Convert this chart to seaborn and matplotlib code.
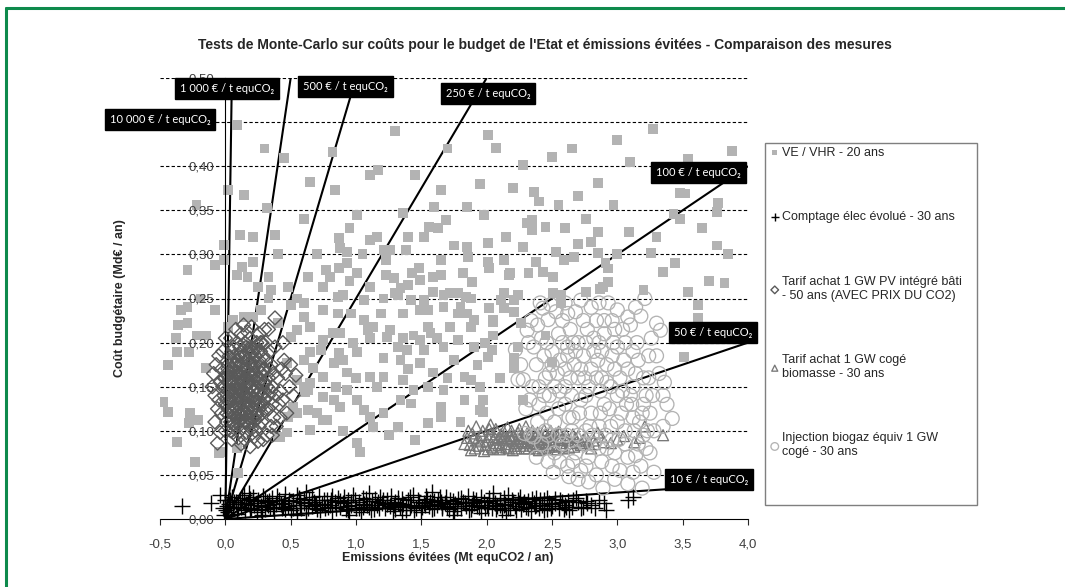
import seaborn as sns
import matplotlib.pyplot as plt
import pandas as pd
from matplotlib.patches import Rectangle
from matplotlib.lines import Line2D

# ---- data (x = Mt equCO2 / an, y = Md€ / an) ----
ve_points = [
    (0.09, 0.447), (0.02, 0.373), (0.14, 0.367), (-0.01, 0.311), (-0.01, 0.294), (-0.22, 0.356),
    (-0.29, 0.282), (-0.08, 0.288), (0.115, 0.322), (0.21, 0.320), (0.21, 0.291), (0.13, 0.286),
    (0.09, 0.277), (0.17, 0.274), (0.32, 0.353), (0.45, 0.409), (0.38, 0.322), (0.33, 0.274),
    (0.25, 0.263), (0.48, 0.263), (0.63, 0.274), (0.65, 0.382), (0.82, 0.416), (0.84, 0.373),
    (0.87, 0.319), (0.88, 0.307), (0.93, 0.303), (0.93, 0.290), (0.87, 0.285), (0.77, 0.282),
    (0.80, 0.274), (1.01, 0.345), (1.01, 0.279), (1.11, 0.390), (1.17, 0.396), (1.11, 0.316),
    (1.16, 0.320), (1.21, 0.305), (1.23, 0.294), (1.26, 0.305), (1.23, 0.277), (1.29, 0.273),
    (1.34, 0.262), (1.36, 0.347), (1.38, 0.305), (1.43, 0.279), (1.48, 0.285), (1.49, 0.271),
    (1.30, 0.256), (1.52, 0.320), (1.56, 0.331), (1.63, 0.330), (1.65, 0.373), (1.60, 0.354),
    (1.69, 0.339), (1.65, 0.294), (1.65, 0.277), (1.59, 0.274), (1.59, 0.257), (1.72, 0.256),
    (1.82, 0.279), (1.85, 0.354), (1.85, 0.308), (1.86, 0.297), (1.89, 0.269), (1.84, 0.252),
    (1.98, 0.345), (2.01, 0.313), (2.01, 0.435), (2.07, 0.421), (2.01, 0.291), (2.02, 0.285),
    (2.13, 0.294), (2.17, 0.277), (2.13, 0.256), (2.28, 0.308), (2.28, 0.401), (2.36, 0.371),
    (2.35, 0.339), (2.35, 0.328), (2.45, 0.331), (2.38, 0.291), (2.32, 0.279), (2.43, 0.280),
    (2.51, 0.274), (2.50, 0.410), (2.55, 0.356), (2.53, 0.303), (2.59, 0.294), (2.51, 0.256),
    (3.27, 0.442), (3.54, 0.408), (3.88, 0.417), (2.85, 0.381), (2.70, 0.366), (2.97, 0.356),
    (3.48, 0.370), (3.52, 0.369), (3.77, 0.358), (3.76, 0.348), (3.43, 0.346), (3.48, 0.340),
    (2.31, 0.336), (2.76, 0.340), (2.85, 0.325), (3.09, 0.325), (2.70, 0.312), (2.80, 0.314),
    (2.67, 0.297), (2.85, 0.302), (2.91, 0.290), (2.93, 0.284), (3.26, 0.302), (3.44, 0.290),
    (3.76, 0.310), (2.18, 0.279), (2.93, 0.269), (2.87, 0.261), (3.54, 0.257), (3.82, 0.268),
    (2.76, 0.257), (2.24, 0.254), (2.57, 0.254), (2.02, 0.239), (2.13, 0.239), (2.21, 0.235),
    (2.05, 0.223), (2.05, 0.208), (1.99, 0.200), (2.04, 0.192), (2.21, 0.183), (2.21, 0.171),
    (2.57, 0.245), (2.45, 0.208), (2.50, 0.178), (2.89, 0.263), (3.62, 0.243), (3.62, 0.228),
    (3.51, 0.184), (1.97, 0.135), (1.97, 0.121), (2.28, 0.135),
    (-0.34, 0.237), (-0.29, 0.240), (-0.19, 0.250), (-0.08, 0.237), (-0.36, 0.220), (-0.29, 0.222),
    (-0.22, 0.208), (-0.15, 0.208), (-0.38, 0.205), (-0.37, 0.189), (-0.28, 0.189), (-0.44, 0.175),
    (-0.15, 0.171), (-0.48, 0.133), (-0.44, 0.121), (-0.27, 0.120), (-0.28, 0.109), (-0.21, 0.112),
    (-0.37, 0.087), (-0.23, 0.065), (-0.05, 0.075), (0.10, 0.052), (0.09, 0.080), (0.27, 0.237),
    (0.33, 0.250), (0.50, 0.243), (0.55, 0.250), (0.60, 0.245), (0.60, 0.229), (0.65, 0.218),
    (0.55, 0.214), (0.75, 0.237), (0.86, 0.252), (0.90, 0.254), (0.86, 0.233), (0.96, 0.233),
    (0.75, 0.203), (0.82, 0.211), (0.73, 0.192), (0.65, 0.189), (0.60, 0.180), (0.67, 0.171),
    (0.75, 0.161), (0.60, 0.150), (0.63, 0.146), (0.55, 0.158), (0.87, 0.188), (0.90, 0.180),
    (1.01, 0.189), (0.98, 0.200), (0.88, 0.211), (0.93, 0.166), (0.83, 0.177), (1.06, 0.226),
    (1.09, 0.214), (1.13, 0.218), (1.19, 0.233), (1.21, 0.250), (1.26, 0.214), (1.24, 0.206),
    (1.11, 0.205), (1.21, 0.183), (1.11, 0.161), (1.16, 0.150), (1.21, 0.161), (0.93, 0.146),
    (0.75, 0.138), (0.83, 0.135), (0.88, 0.127), (1.01, 0.135), (1.06, 0.124), (1.11, 0.116),
    (1.13, 0.104), (1.01, 0.086), (1.03, 0.076), (0.63, 0.124), (0.70, 0.120), (0.75, 0.112),
    (0.65, 0.101), (0.47, 0.098), (0.52, 0.127), (0.42, 0.093), (1.32, 0.104), (1.21, 0.120),
    (1.34, 0.135), (1.42, 0.131), (1.36, 0.158), (1.34, 0.180), (1.32, 0.195), (1.36, 0.205),
    (1.44, 0.208), (1.49, 0.203), (1.52, 0.192), (1.39, 0.192), (1.49, 0.177), (1.55, 0.218),
    (1.57, 0.211), (1.62, 0.205), (1.67, 0.195), (1.59, 0.166), (1.55, 0.150), (1.44, 0.146),
    (1.67, 0.146), (1.65, 0.127), (1.65, 0.116), (1.55, 0.109), (1.49, 0.237), (1.55, 0.237),
    (1.67, 0.240), (1.78, 0.233), (1.72, 0.218), (1.75, 0.180), (1.78, 0.203), (1.88, 0.218),
    (1.90, 0.195), (2.01, 0.184), (1.93, 0.175), (1.83, 0.161), (1.88, 0.158), (1.95, 0.124),
    (1.83, 0.135), (1.85, 0.233), (1.90, 0.226), (2.05, 0.226), (2.11, 0.248), (2.21, 0.248),
    (2.24, 0.195), (2.26, 0.222), (1.67, 0.254), (1.78, 0.256), (1.88, 0.250), (1.32, 0.254),
    (1.42, 0.248), (1.36, 0.233), (1.52, 0.248), (1.06, 0.248), (1.11, 0.263), (0.75, 0.263),
    (0.02, 0.218), (0.06, 0.226), (0.14, 0.229), (0.21, 0.229), (0.40, 0.222), (0.50, 0.206),
    (0.47, 0.177), (0.48, 0.116), (0.40, 0.093), (0.17, 0.195), (-0.04, 0.076), (0.55, 0.120),
    (0.61, 0.144), (0.65, 0.154), (0.78, 0.112),
    (0.70, 0.300), (0.95, 0.330), (1.05, 0.300), (1.40, 0.320), (1.75, 0.310), (2.15, 0.320),
    (2.40, 0.360), (2.60, 0.330), (3.00, 0.300), (3.20, 0.260), (3.35, 0.280), (3.70, 0.270),
    (3.40, 0.390), (3.10, 0.405), (2.20, 0.375), (1.95, 0.380), (1.45, 0.390), (0.60, 0.340),
    (0.40, 0.300), (0.30, 0.420), (1.30, 0.440), (1.70, 0.420), (2.65, 0.420), (3.00, 0.430),
    (3.65, 0.330), (3.85, 0.300), (3.30, 0.320), (1.00, 0.160), (1.40, 0.170), (1.70, 0.160),
    (1.80, 0.110), (1.45, 0.090), (1.25, 0.095), (0.90, 0.100), (0.85, 0.150), (1.95, 0.150),
    (2.10, 0.160), (0.35, 0.260), (0.95, 0.270), (1.40, 0.265), (1.80, 0.240),
]

comptage_points = [
    (-0.33, 0.015), (-0.11, 0.018), (-0.04, 0.027), (-0.02, 0.012), (0.00, 0.022), (0.02, 0.008),
    (0.03, 0.017), (0.05, 0.025), (0.06, 0.012), (0.08, 0.019), (0.09, 0.006), (0.11, 0.022),
    (0.12, 0.014), (0.14, 0.027), (0.15, 0.010), (0.17, 0.018), (0.19, 0.023), (0.20, 0.013),
    (0.22, 0.016), (0.24, 0.008), (0.25, 0.021), (0.27, 0.015), (0.29, 0.026), (0.30, 0.011),
    (0.32, 0.019), (0.34, 0.014), (0.36, 0.024), (0.37, 0.009), (0.39, 0.017), (0.41, 0.021),
    (0.43, 0.012), (0.45, 0.018), (0.46, 0.028), (0.48, 0.015), (0.50, 0.010), (0.52, 0.020),
    (0.54, 0.016), (0.56, 0.024), (0.58, 0.012), (0.60, 0.018), (0.62, 0.007), (0.64, 0.022),
    (0.66, 0.015), (0.68, 0.019), (0.70, 0.011), (0.72, 0.026), (0.74, 0.017), (0.76, 0.013),
    (0.78, 0.021), (0.80, 0.016), (0.82, 0.009), (0.84, 0.019), (0.86, 0.024), (0.88, 0.014),
    (0.90, 0.018), (0.92, 0.011), (0.94, 0.022), (0.96, 0.016), (0.98, 0.027), (1.00, 0.013),
    (1.02, 0.019), (1.04, 0.008), (1.06, 0.017), (1.08, 0.023), (1.10, 0.014), (1.12, 0.020),
    (1.14, 0.011), (1.16, 0.016), (1.18, 0.025), (1.20, 0.018), (1.22, 0.012), (1.24, 0.021),
    (1.26, 0.015), (1.28, 0.009), (1.30, 0.019), (1.32, 0.024), (1.34, 0.014), (1.36, 0.017),
    (1.38, 0.010), (1.40, 0.022), (1.42, 0.016), (1.44, 0.027), (1.46, 0.013), (1.48, 0.019),
    (1.50, 0.008), (1.52, 0.018), (1.54, 0.023), (1.56, 0.015), (1.58, 0.011), (1.60, 0.020),
    (1.62, 0.016), (1.64, 0.025), (1.66, 0.012), (1.68, 0.018), (1.70, 0.014), (1.72, 0.021),
    (1.74, 0.009), (1.76, 0.017), (1.78, 0.023), (1.80, 0.013), (1.82, 0.019), (1.84, 0.015),
    (1.86, 0.026), (1.88, 0.011), (1.90, 0.018), (1.92, 0.021), (1.94, 0.014), (1.96, 0.007),
    (1.98, 0.019), (2.00, 0.016), (2.02, 0.024), (2.04, 0.012), (2.06, 0.018), (2.08, 0.015),
    (2.10, 0.021), (2.12, 0.010), (2.14, 0.017), (2.16, 0.027), (2.18, 0.013), (2.20, 0.019),
    (2.22, 0.015), (2.24, 0.022), (2.26, 0.011), (2.28, 0.017), (2.30, 0.014), (2.32, 0.020),
    (2.34, 0.009), (2.36, 0.018), (2.38, 0.024), (2.40, 0.013), (2.42, 0.016), (2.44, 0.021),
    (2.46, 0.011), (2.48, 0.018), (2.50, 0.015), (2.52, 0.023), (2.55, 0.012), (2.58, 0.019),
    (2.60, 0.016), (2.63, 0.010), (2.66, 0.021), (2.70, 0.019), (2.74, 0.014), (2.80, 0.016),
    (2.86, 0.021), (2.90, 0.018), (2.91, 0.010), (3.08, 0.022), (3.12, 0.025),
    (0.01, 0.015), (0.10, 0.017), (0.21, 0.020), (0.33, 0.016), (0.44, 0.014), (0.57, 0.019),
    (0.69, 0.016), (0.81, 0.021), (0.93, 0.015), (1.05, 0.014), (1.17, 0.019), (1.29, 0.016),
    (1.41, 0.014), (1.53, 0.016), (1.65, 0.019), (1.77, 0.015), (1.89, 0.016), (2.01, 0.013),
    (2.13, 0.016), (2.25, 0.018), (2.37, 0.015), (2.49, 0.017), (2.61, 0.014), (2.77, 0.018),
    (0.005, 0.010), (0.035, 0.021), (0.065, 0.019), (0.095, 0.013), (0.125, 0.024), (0.155, 0.017),
    (0.185, 0.011), (0.215, 0.025), (0.245, 0.018), (0.275, 0.010), (0.305, 0.022), (0.335, 0.020),
    (0.365, 0.013), (0.395, 0.026), (0.425, 0.017), (0.455, 0.011), (0.485, 0.022), (0.515, 0.013),
    (0.545, 0.027), (0.575, 0.016), (0.605, 0.023), (0.635, 0.012), (0.665, 0.025), (0.695, 0.017),
    (0.725, 0.010), (0.755, 0.021), (0.785, 0.014), (0.815, 0.026), (0.845, 0.012), (0.875, 0.020),
    (0.905, 0.025), (0.935, 0.010), (0.965, 0.019), (0.995, 0.022), (1.025, 0.012), (1.055, 0.024),
    (1.085, 0.016), (1.115, 0.010), (1.145, 0.023), (1.175, 0.013), (1.205, 0.022), (1.235, 0.017),
    (1.265, 0.026), (1.295, 0.011), (1.325, 0.018), (1.355, 0.023), (1.385, 0.015), (1.415, 0.025),
    (1.445, 0.010), (1.475, 0.021), (1.505, 0.014), (1.535, 0.026), (1.565, 0.019), (1.595, 0.012),
    (1.625, 0.022), (1.655, 0.015), (1.685, 0.025), (1.715, 0.011), (1.745, 0.020), (1.775, 0.013),
    (1.805, 0.024), (1.835, 0.018), (1.865, 0.010), (1.895, 0.023), (1.925, 0.015), (1.955, 0.025),
    (1.985, 0.012), (2.015, 0.020), (2.045, 0.022), (2.075, 0.011), (2.105, 0.016), (2.135, 0.024),
    (2.165, 0.012), (2.195, 0.021), (2.225, 0.010), (2.255, 0.025), (2.285, 0.019), (2.315, 0.012),
    (2.345, 0.023), (2.375, 0.016), (2.405, 0.021), (2.435, 0.010), (2.465, 0.024), (2.495, 0.012),
    (2.525, 0.018), (2.565, 0.022), (2.595, 0.011), (2.625, 0.020), (2.655, 0.014), (2.685, 0.024),
    (2.72, 0.012), (2.76, 0.020), (2.83, 0.013), (-0.01, 0.005), (0.04, 0.004), (0.28, 0.005),
    (0.55, 0.004), (0.95, 0.005), (1.35, 0.004), (1.75, 0.005), (2.15, 0.004), (0.18, 0.030),
    (0.62, 0.031), (1.10, 0.030), (1.58, 0.031), (2.05, 0.030),
]

pv_points = [
    (0.15, 0.150), (0.10, 0.140), (0.20, 0.160), (0.05, 0.130), (0.25, 0.170), (0.12, 0.120),
    (0.18, 0.180), (0.08, 0.165), (0.22, 0.135), (0.00, 0.150), (0.30, 0.155), (0.14, 0.105),
    (0.16, 0.195), (0.04, 0.110), (0.27, 0.190), (-0.03, 0.170), (0.33, 0.140), (0.10, 0.185),
    (0.20, 0.115), (0.07, 0.150), (0.24, 0.150), (0.13, 0.165), (0.17, 0.135), (0.02, 0.175),
    (0.35, 0.175), (0.11, 0.100), (0.28, 0.120), (0.06, 0.195), (0.19, 0.205), (-0.05, 0.135),
    (0.40, 0.160), (0.09, 0.125), (0.23, 0.185), (0.15, 0.090), (0.31, 0.200), (0.01, 0.120),
    (0.26, 0.105), (0.12, 0.210), (0.36, 0.130), (-0.02, 0.190), (0.21, 0.145), (0.14, 0.140),
    (0.08, 0.105), (0.29, 0.170), (0.03, 0.160), (0.18, 0.155), (0.11, 0.175), (0.22, 0.125),
    (0.06, 0.140), (0.16, 0.120), (0.34, 0.190), (0.38, 0.228), (0.33, 0.215), (-0.10, 0.150),
    (-0.06, 0.086), (0.19, 0.082), (0.54, 0.163), (0.45, 0.180), (0.42, 0.145), (0.47, 0.120),
    (0.39, 0.105), (0.32, 0.095), (0.25, 0.088), (0.05, 0.090), (-0.08, 0.110), (-0.07, 0.175),
    (0.00, 0.205), (0.08, 0.215), (0.14, 0.220), (0.26, 0.210), (0.44, 0.200), (0.49, 0.150),
    (0.37, 0.115), (0.30, 0.135), (0.27, 0.145), (0.20, 0.175), (0.17, 0.170), (0.13, 0.155),
    (0.09, 0.160), (0.04, 0.145), (-0.01, 0.140), (0.02, 0.125), (0.07, 0.118), (0.10, 0.110),
    (0.18, 0.108), (0.23, 0.100), (0.28, 0.110), (0.33, 0.160), (0.36, 0.150), (0.31, 0.180),
    (0.24, 0.200), (0.21, 0.190), (0.15, 0.185), (0.12, 0.190), (0.05, 0.180), (0.02, 0.155),
    (-0.04, 0.155), (0.11, 0.145), (0.16, 0.160), (0.19, 0.140), (0.25, 0.130), (0.13, 0.130),
    (0.08, 0.135), (0.22, 0.165), (0.29, 0.155), (0.17, 0.125), (0.06, 0.170), (0.26, 0.160),
    (0.14, 0.175), (0.10, 0.155), (0.20, 0.128), (0.31, 0.125), (0.04, 0.100), (0.16, 0.098),
    (0.35, 0.105), (0.41, 0.130), (0.43, 0.170), (0.38, 0.195), (0.28, 0.200), (0.09, 0.200),
    (-0.03, 0.120), (0.00, 0.100), (0.12, 0.085), (0.22, 0.093),
    (0.03, 0.138), (0.07, 0.128), (0.11, 0.133), (0.15, 0.128), (0.19, 0.150), (0.23, 0.158),
    (0.05, 0.155), (0.09, 0.148), (0.13, 0.148), (0.17, 0.145), (0.21, 0.170), (0.25, 0.142),
    (0.01, 0.165), (0.07, 0.175), (0.11, 0.165), (0.15, 0.170), (0.19, 0.188), (0.27, 0.175),
    (0.04, 0.122), (0.08, 0.115), (0.12, 0.112), (0.16, 0.110), (0.20, 0.102), (0.24, 0.118),
    (0.00, 0.130), (0.02, 0.145), (0.04, 0.135), (0.06, 0.125), (0.08, 0.145), (0.10, 0.130),
    (0.12, 0.140), (0.14, 0.120), (0.16, 0.140), (0.18, 0.130), (0.20, 0.150), (0.22, 0.145),
    (0.24, 0.135), (0.26, 0.125), (0.28, 0.140), (0.30, 0.145), (0.32, 0.150), (0.00, 0.160),
    (0.02, 0.170), (0.04, 0.165), (0.06, 0.160), (0.08, 0.175), (0.10, 0.165), (0.12, 0.160),
    (0.14, 0.160), (0.16, 0.180), (0.18, 0.165), (0.20, 0.165), (0.22, 0.175), (0.24, 0.160),
    (0.26, 0.180), (0.28, 0.165), (0.30, 0.170), (-0.02, 0.150), (-0.01, 0.160), (0.01, 0.110),
    (0.03, 0.118), (0.05, 0.120), (0.07, 0.108), (0.09, 0.115), (0.11, 0.120), (0.13, 0.115),
    (0.15, 0.112), (0.17, 0.115), (0.19, 0.120), (0.21, 0.110), (0.23, 0.112), (0.25, 0.115),
    (0.27, 0.130), (0.03, 0.185), (0.05, 0.190), (0.07, 0.185), (0.09, 0.180), (0.11, 0.195),
    (0.13, 0.185), (0.15, 0.200), (0.17, 0.190), (0.19, 0.195), (0.21, 0.180), (0.23, 0.195),
    (0.25, 0.190), (0.27, 0.200), (0.29, 0.185), (0.01, 0.135), (0.05, 0.145), (0.09, 0.138),
    (0.13, 0.145), (0.17, 0.152), (0.21, 0.138), (0.25, 0.155), (0.29, 0.130), (0.33, 0.125),
    (0.35, 0.145), (0.37, 0.165), (0.39, 0.140), (0.34, 0.170), (-0.06, 0.125), (-0.08, 0.140),
    (-0.09, 0.165), (-0.05, 0.185), (0.46, 0.165), (0.50, 0.175), (0.52, 0.140), (0.44, 0.135),
    (0.42, 0.115), (0.36, 0.095), (0.29, 0.090), (0.10, 0.092), (0.06, 0.098), (-0.04, 0.098),
    (0.30, 0.215), (0.20, 0.218), (0.04, 0.205), (0.17, 0.212),
]

biomasse_points = [
    (1.83, 0.085), (1.86, 0.100), (1.88, 0.078), (1.90, 0.092), (1.92, 0.105), (1.94, 0.083),
    (1.96, 0.095), (1.98, 0.077), (2.00, 0.088), (2.02, 0.102), (2.03, 0.107), (2.04, 0.082),
    (2.06, 0.093), (2.08, 0.099), (2.10, 0.079), (2.12, 0.090), (2.14, 0.085), (2.16, 0.104),
    (2.18, 0.094), (2.20, 0.078), (2.22, 0.088), (2.24, 0.098), (2.26, 0.083), (2.28, 0.092),
    (2.30, 0.105), (2.32, 0.080), (2.34, 0.090), (2.36, 0.096), (2.38, 0.085), (2.40, 0.078),
    (2.42, 0.093), (2.44, 0.101), (2.46, 0.087), (2.48, 0.082), (2.50, 0.095), (2.52, 0.089),
    (2.54, 0.079), (2.56, 0.098), (2.58, 0.086), (2.60, 0.092), (2.63, 0.081), (2.66, 0.096),
    (2.69, 0.088), (2.72, 0.084), (2.76, 0.093), (2.80, 0.080), (2.85, 0.098), (2.90, 0.087),
    (3.00, 0.090), (3.13, 0.087), (3.21, 0.105), (3.35, 0.095),
    (1.95, 0.088), (2.01, 0.093), (2.07, 0.086), (2.11, 0.096), (2.15, 0.081), (2.19, 0.091),
    (2.23, 0.086), (2.27, 0.095), (2.31, 0.088), (2.35, 0.083), (2.39, 0.091), (2.43, 0.087),
    (2.47, 0.093), (2.51, 0.084), (2.55, 0.090), (2.05, 0.090), (2.13, 0.094), (2.21, 0.083),
    (2.29, 0.086), (2.37, 0.094), (2.45, 0.080), (2.53, 0.097), (2.09, 0.084), (2.17, 0.089),
    (2.25, 0.091), (2.33, 0.097), (2.41, 0.085), (2.49, 0.090), (2.57, 0.083), (2.62, 0.089),
    (2.68, 0.092), (2.74, 0.090), (2.82, 0.089),
    (1.85, 0.092), (1.87, 0.084), (1.89, 0.097), (1.91, 0.080), (1.93, 0.090), (1.97, 0.100),
    (1.99, 0.084), (2.01, 0.079), (2.03, 0.096), (2.05, 0.080), (2.07, 0.102), (2.09, 0.092),
    (2.11, 0.082), (2.13, 0.100), (2.15, 0.092), (2.17, 0.080), (2.19, 0.100), (2.21, 0.094),
    (2.23, 0.080), (2.25, 0.102), (2.27, 0.088), (2.29, 0.080), (2.31, 0.097), (2.33, 0.086),
    (2.35, 0.100), (2.37, 0.080), (2.39, 0.098), (2.41, 0.090), (2.43, 0.080), (2.45, 0.096),
    (2.47, 0.084), (2.49, 0.100), (2.51, 0.090), (2.53, 0.082), (2.55, 0.099), (2.57, 0.090),
    (2.59, 0.080), (2.61, 0.095), (2.64, 0.086), (2.67, 0.082), (2.70, 0.094), (2.73, 0.086),
    (2.78, 0.088), (2.83, 0.085), (2.88, 0.093), (2.95, 0.086), (3.05, 0.094), (3.17, 0.092),
]

biogaz_points = [
    (3.21, 0.250), (3.30, 0.222), (3.33, 0.214), (3.42, 0.114), (3.35, 0.140), (3.28, 0.053),
    (3.19, 0.035), (3.12, 0.053), (2.89, 0.035), (2.78, 0.042), (2.63, 0.048), (2.51, 0.053),
    (2.34, 0.095), (2.24, 0.158), (2.22, 0.192), (2.32, 0.200), (2.31, 0.214), (2.47, 0.226),
    (2.49, 0.243), (2.72, 0.248), (3.00, 0.237), (3.08, 0.229), (2.62, 0.233), (2.43, 0.239),
    (2.28, 0.158), (2.36, 0.093), (2.29, 0.097),
    (2.40, 0.130), (2.45, 0.160), (2.50, 0.190), (2.55, 0.210), (2.60, 0.170), (2.65, 0.140),
    (2.70, 0.200), (2.75, 0.160), (2.80, 0.120), (2.85, 0.180), (2.90, 0.210), (2.95, 0.150),
    (3.00, 0.110), (3.05, 0.180), (3.10, 0.140), (3.15, 0.200), (3.20, 0.160), (3.25, 0.120),
    (2.38, 0.175), (2.42, 0.205), (2.48, 0.140), (2.52, 0.110), (2.58, 0.225), (2.62, 0.195),
    (2.67, 0.175), (2.72, 0.135), (2.77, 0.215), (2.82, 0.190), (2.87, 0.145), (2.92, 0.175),
    (2.97, 0.200), (3.02, 0.160), (3.07, 0.130), (3.12, 0.190), (3.17, 0.110), (3.22, 0.140),
    (2.35, 0.150), (2.44, 0.185), (2.54, 0.165), (2.64, 0.215), (2.74, 0.185), (2.84, 0.225),
    (2.94, 0.125), (3.04, 0.215), (3.14, 0.165), (3.24, 0.185), (2.46, 0.120), (2.56, 0.145),
    (2.66, 0.115), (2.76, 0.100), (2.86, 0.105), (2.96, 0.090), (3.06, 0.100), (3.16, 0.085),
    (2.58, 0.085), (2.68, 0.075), (2.78, 0.070), (2.88, 0.065), (2.98, 0.075), (3.08, 0.070),
    (2.62, 0.060), (2.72, 0.055), (2.82, 0.085), (2.92, 0.080), (3.02, 0.055), (2.55, 0.095),
    (2.45, 0.100), (3.18, 0.060), (3.25, 0.075), (3.28, 0.100), (3.32, 0.165), (3.30, 0.185),
    (3.38, 0.130), (2.26, 0.175), (2.30, 0.125), (2.39, 0.220), (2.53, 0.235), (2.68, 0.235),
    (2.80, 0.240), (2.93, 0.245), (3.10, 0.220), (3.18, 0.230), (2.70, 0.160), (2.78, 0.150),
    (2.88, 0.160), (2.98, 0.170), (2.60, 0.130), (2.70, 0.095), (2.90, 0.130), (3.00, 0.140),
    (2.50, 0.175), (2.62, 0.185), (2.76, 0.200), (2.86, 0.200), (2.96, 0.225), (3.12, 0.115),
    (3.20, 0.095), (2.84, 0.050), (2.75, 0.085), (2.65, 0.100), (2.52, 0.075), (2.42, 0.085),
    (2.40, 0.150), (2.44, 0.140), (2.48, 0.165), (2.52, 0.150), (2.56, 0.180), (2.60, 0.150),
    (2.64, 0.160), (2.68, 0.190), (2.72, 0.170), (2.76, 0.140), (2.80, 0.170), (2.84, 0.160),
    (2.88, 0.190), (2.92, 0.155), (2.96, 0.185), (3.00, 0.195), (3.04, 0.145), (3.08, 0.170),
    (3.12, 0.150), (3.16, 0.180), (3.20, 0.130), (3.24, 0.160), (2.58, 0.200), (2.66, 0.200),
    (2.74, 0.225), (2.82, 0.205), (2.90, 0.225), (2.98, 0.215), (3.06, 0.200), (2.46, 0.200),
    (2.36, 0.195), (2.34, 0.225), (2.41, 0.245), (2.60, 0.245), (2.86, 0.245), (3.14, 0.240),
    (3.26, 0.205), (2.55, 0.125), (2.63, 0.115), (2.71, 0.120), (2.79, 0.105), (2.87, 0.120),
    (2.95, 0.105), (3.03, 0.120), (3.11, 0.130), (3.19, 0.120), (3.27, 0.140), (2.33, 0.135),
    (2.39, 0.110), (2.47, 0.095), (2.61, 0.095), (2.81, 0.095), (2.91, 0.095), (3.01, 0.090),
    (3.13, 0.100), (3.23, 0.100), (3.35, 0.105), (3.36, 0.155), (2.66, 0.065), (2.76, 0.060),
    (2.86, 0.080), (2.96, 0.060), (3.06, 0.085), (3.14, 0.072), (3.22, 0.080), (2.56, 0.065),
    (2.70, 0.045), (2.98, 0.045), (3.08, 0.040), (2.47, 0.065), (2.38, 0.070),
]

series_labels = [
    "VE / VHR - 20 ans",
    "Comptage élec évolué - 30 ans",
    "Tarif achat 1 GW PV intégré bâti\n- 50 ans (AVEC PRIX DU CO2)",
    "Tarif achat 1 GW cogé\nbiomasse - 30 ans",
    "Injection biogaz équiv 1 GW\ncogé - 30 ans",
]

# cost per avoided tonne, €/t equCO2, for the reference lines
rates = [10000, 1000, 500, 250, 100, 50, 10]
rate_labels = ["10 000 € / t equCO₂", "1 000 € / t equCO₂", "500 € / t equCO₂",
               "250 € / t equCO₂", "100 € / t equCO₂", "50 € / t equCO₂", "10 € / t equCO₂"]
rate_label_x = [-0.50, 0.015, 0.92, 2.01, 3.62, 3.73, 3.70]
rate_label_y = [0.453, 0.488, 0.490, 0.482, 0.393, 0.211, 0.045]

y_ticks = [0.0, 0.05, 0.10, 0.15, 0.20, 0.25, 0.30, 0.35, 0.40, 0.45, 0.50]
y_tick_labels = ["0,00", "0,05", "0,10", "0,15", "0,20", "0,25", "0,30", "0,35", "0,40", "0,45", "0,50"]
x_ticks = [-0.5, 0.0, 0.5, 1.0, 1.5, 2.0, 2.5, 3.0, 3.5, 4.0]
x_tick_labels = ["-0,5", "0,0", "0,5", "1,0", "1,5", "2,0", "2,5", "3,0", "3,5", "4,0"]

def to_df(points):
    return pd.DataFrame(points, columns=["emis", "cout"])

sns.set_style("white")
plt.rcParams["font.family"] = ["Liberation Sans", "DejaVu Sans"]

fig = plt.figure(figsize=(10.65, 5.87), dpi=100)
ax = fig.add_axes([160 / 1065, 68 / 587, 588 / 1065, 441 / 587])

# dashed horizontal gridlines, under everything
ax.hlines(y_ticks[1:], -0.5, 4.0, colors="black", linestyles=(0, (3, 2)), linewidth=0.8, zorder=0.5)

# reference lines from the origin (cost = rate * emissions)
for r in rates:
    slope = r / 1000.0
    x_end = min(4.0, 0.5 / slope)
    ax.plot([0, x_end], [0, slope * x_end], color="black", lw=1.5, zorder=1.5,
            solid_capstyle="butt")

sns.scatterplot(data=to_df(ve_points), x="emis", y="cout", ax=ax, marker="s", s=50,
                color="#b3b3b3", edgecolor="none", label=series_labels[0], zorder=2)
sns.scatterplot(data=to_df(comptage_points), x="emis", y="cout", ax=ax, marker="+", s=120,
                color="black", linewidth=1.0, label=series_labels[1], zorder=2)
sns.scatterplot(data=to_df(pv_points), x="emis", y="cout", ax=ax, marker="D", s=50,
                facecolor="none", edgecolor="#595959", linewidth=1.0,
                label=series_labels[2], zorder=2)
sns.scatterplot(data=to_df(biomasse_points), x="emis", y="cout", ax=ax, marker="^", s=62,
                facecolor="none", edgecolor="#777777", linewidth=0.95,
                label=series_labels[3], zorder=2)
sns.scatterplot(data=to_df(biogaz_points), x="emis", y="cout", ax=ax, marker="o", s=100,
                facecolor="none", edgecolor="#b3b3b3", linewidth=0.95,
                label=series_labels[4], zorder=2)

for lab, lx, ly in zip(rate_labels, rate_label_x, rate_label_y):
    ax.text(lx, ly, lab, ha="center", va="center", color="white", fontsize=8,
            family=["Lato", "DejaVu Sans"], zorder=5, clip_on=False,
            bbox=dict(boxstyle="square,pad=0.45", fc="black", ec="black"))

ax.set_xlim(-0.5, 4.0)
ax.set_ylim(0, 0.5)
ax.set_xticks(x_ticks)
ax.set_xticklabels(x_tick_labels)
ax.set_yticks(y_ticks)
ax.set_yticklabels(y_tick_labels)
ax.tick_params(axis="y", length=0, pad=8, labelsize=9.5, labelcolor="#404040")
ax.tick_params(axis="x", length=4, direction="out", width=0.8, labelsize=9.5,
               labelcolor="#404040", pad=10, bottom=True)

ax.grid(False)
ax.set_axisbelow(False)  # tick labels above the markers, as in the source chart
for side in ["top", "right"]:
    ax.spines[side].set_visible(False)
ax.spines["left"].set_position(("data", 0))
ax.spines["left"].set_color("black")
ax.spines["bottom"].set_color("black")

ax.set_xlabel("Emissions évitées (Mt equCO2 / an)", fontsize=9, fontweight="bold")
ax.set_ylabel("Coût budgétaire (Md€ / an)", fontsize=9, fontweight="bold")
ax.xaxis.set_label_coords(0.49, -0.074)
ax.yaxis.set_label_coords(-0.058, 0.5)

fig.text(545 / 1065, 1 - 45 / 587,
         "Tests de Monte-Carlo sur coûts pour le budget de l'Etat et émissions évitées - Comparaison des mesures",
         ha="center", va="center", fontsize=10, fontweight="bold")

handles, labels = ax.get_legend_handles_labels()
if ax.get_legend() is not None:
    ax.get_legend().remove()
fig.legend(handles, labels, loc="upper left", bbox_to_anchor=(766 / 1065, 1 - 143 / 587),
           frameon=False, fontsize=9, labelspacing=4.2, handletextpad=0.2,
           handlelength=0.8, markerscale=0.55, borderpad=0.3, borderaxespad=0)
fig.add_artist(Rectangle((765 / 1065, 82 / 587), 212 / 1065, 362 / 587,
                         transform=fig.transFigure, fill=False, ec="#7f7f7f", lw=1.0))

# green frame (top and left only)
fig.add_artist(Line2D([6 / 1065, 1.0], [1 - 8 / 587, 1 - 8 / 587], transform=fig.transFigure,
                      color="#0e8a4c", lw=2.2))
fig.add_artist(Line2D([6 / 1065, 6 / 1065], [0, 1 - 8 / 587], transform=fig.transFigure,
                      color="#0e8a4c", lw=2.2))

fig.savefig("out.png", dpi=100)
